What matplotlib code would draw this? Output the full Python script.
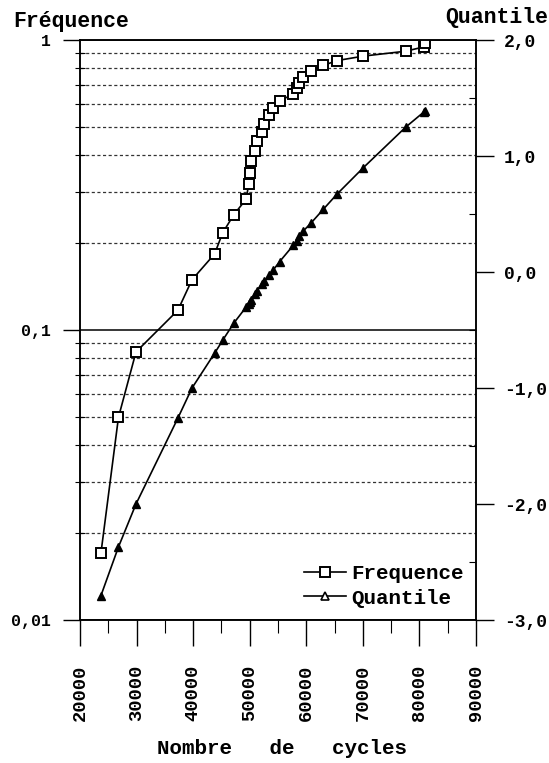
import matplotlib
matplotlib.use("Agg")
import matplotlib.pyplot as plt
from matplotlib.lines import Line2D
from matplotlib.ticker import FixedLocator, MultipleLocator, NullFormatter, FixedFormatter

# data
cycles = [23700, 26800, 29900, 37300, 39800, 43800, 45200, 47200, 49400, 49800,
          50000, 50200, 50900, 51300, 52200, 52600, 53400, 54200, 55300, 57700,
          58300, 58800, 59400, 60800, 63000, 65400, 70100, 77600, 80800, 80900]
frequence = [0.017, 0.050, 0.084, 0.117, 0.149, 0.183, 0.216, 0.250, 0.283, 0.318,
             0.349, 0.383, 0.415, 0.447, 0.482, 0.514, 0.550, 0.582, 0.618, 0.650,
             0.682, 0.712, 0.745, 0.780, 0.817, 0.849, 0.880, 0.915, 0.947, 0.978]
quantile = [-2.79, -2.37, -2.00, -1.26, -1.00, -0.70, -0.59, -0.44, -0.30, -0.28,
            -0.26, -0.24, -0.19, -0.16, -0.10, -0.08, -0.03, 0.02, 0.09, 0.23,
            0.27, 0.31, 0.35, 0.42, 0.54, 0.67, 0.90, 1.25, 1.38, 1.39]

left_ticks = [0.01, 0.1, 1]
left_labels = ["0,01", "0,1", "1"]
right_ticks = [-3, -2, -1, 0, 1, 2]
right_labels = ["-3,0", "-2,0", "-1,0", "0,0", "1,0", "2,0"]
x_ticks = [20000, 30000, 40000, 50000, 60000, 70000, 80000, 90000]

font = "Liberation Mono"
plt.rcParams['font.family'] = [font, 'DejaVu Sans']
plt.rcParams['font.weight'] = 'bold'

fig = plt.figure(figsize=(5.49, 7.63), dpi=100)
ax = fig.add_axes([80/549, 1-620/763, 396/549, 580/763])
ax2 = ax.twinx()

ax.plot(cycles, frequence, color='black', lw=1.2, marker='s', ms=7.5,
        mfc='white', mec='black', mew=1.4)
ax2.plot(cycles, quantile, color='black', lw=1.2, marker='^', ms=5.5,
         mfc='black', mec='black', mew=1.0)

ax.set_yscale('log')
ax.set_ylim(0.01, 1)
ax.set_xlim(20000, 90000)
ax2.set_ylim(-3, 2)

ax.yaxis.set_major_locator(FixedLocator(left_ticks))
ax.yaxis.set_major_formatter(FixedFormatter(left_labels))
ax.yaxis.set_minor_formatter(NullFormatter())
ax.set_xticks(x_ticks)
ax.set_xticklabels([str(v) for v in x_ticks], rotation=90)
ax.xaxis.set_minor_locator(MultipleLocator(5000))

ax2.set_yticks(right_ticks)
ax2.set_yticklabels(right_labels)
ax2.yaxis.set_minor_locator(MultipleLocator(0.5))

ax.yaxis.grid(True, which='minor', ls=(0, (2.5, 2)), lw=0.9, color='0.2')
ax.yaxis.grid(True, which='major', ls='-', lw=1.1, color='black')
ax.set_axisbelow(True)

ax.tick_params(axis='y', which='major', direction='out', length=12, width=1,
               pad=9, labelsize=12)
ax.tick_params(axis='y', which='minor', direction='inout', length=7, width=0.8)
ax.tick_params(axis='x', which='major', direction='out', length=19, width=1,
               pad=13, labelsize=13.5)
ax.tick_params(axis='x', which='minor', direction='out', length=9, width=0.8)
ax2.tick_params(axis='y', which='major', direction='out', length=13, width=1,
                pad=7, labelsize=13)
ax2.tick_params(axis='y', which='minor', direction='in', length=5, width=0.8)

for a in (ax, ax2):
    for s in a.spines.values():
        s.set_linewidth(1.1)

# legend shows open markers
h1 = Line2D([], [], color='black', lw=1.2, marker='s', ms=7.5, mfc='white',
            mec='black', mew=1.4)
h2 = Line2D([], [], color='black', lw=1.2, marker='^', ms=5.5, mfc='white',
            mec='black', mew=1.2)
ax2.legend(handles=[h1, h2], labels=['Frequence', 'Quantile'], loc='lower right',
           frameon=False, fontsize=15, handlelength=2.0, handletextpad=0.25,
           labelspacing=0.25, borderaxespad=0.2)

fig.text(13/549, 1-22/763, "Fréquence", ha='left', va='center', fontsize=15.5)
fig.text(548/549, 1-17/763, "Quantile", ha='right', va='center', fontsize=15.5)
fig.text(282/549, 1-748/763, "Nombre   de   cycles", ha='center', va='center',
         fontsize=15)

fig.savefig("out.png", dpi=100)
